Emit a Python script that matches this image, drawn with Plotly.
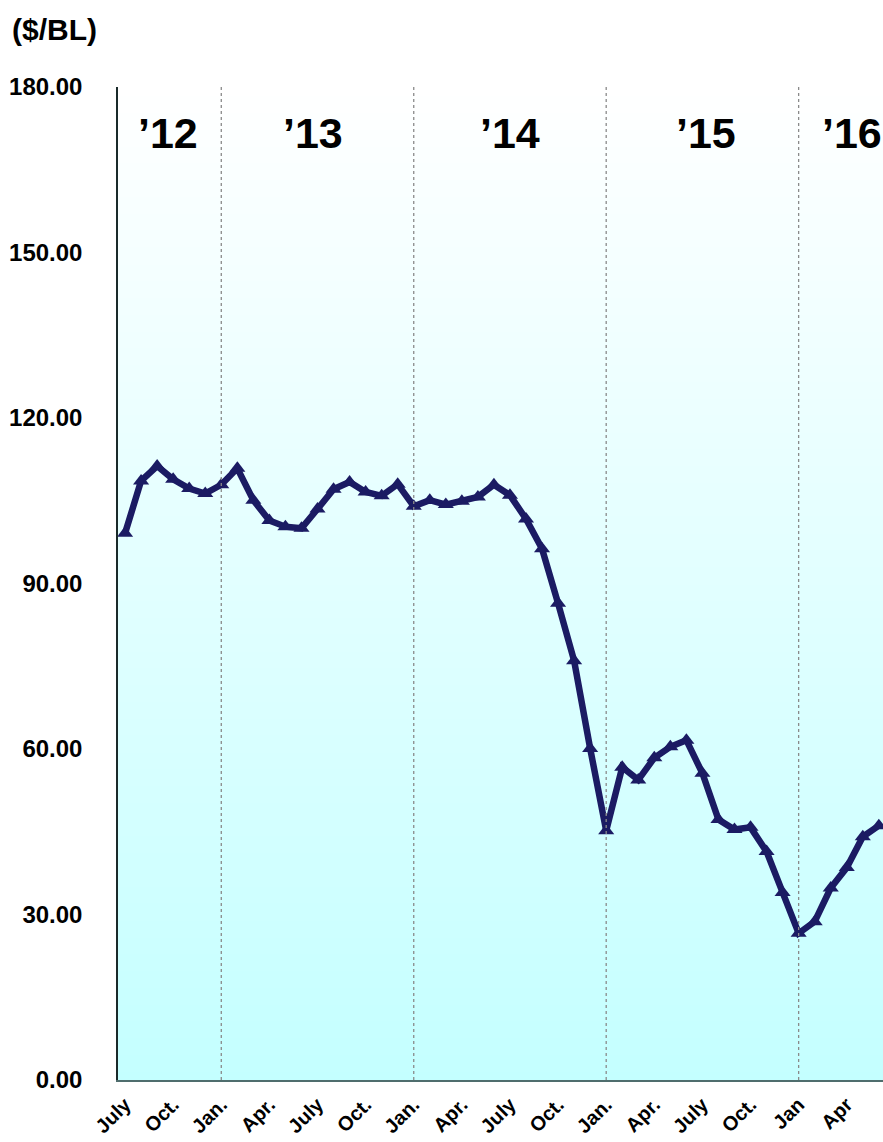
import numpy as np
import plotly.graph_objects as go

# ---- data ----
months = [
    "2012-07", "2012-08", "2012-09", "2012-10", "2012-11", "2012-12",
    "2013-01", "2013-02", "2013-03", "2013-04", "2013-05", "2013-06",
    "2013-07", "2013-08", "2013-09", "2013-10", "2013-11", "2013-12",
    "2014-01", "2014-02", "2014-03", "2014-04", "2014-05", "2014-06",
    "2014-07", "2014-08", "2014-09", "2014-10", "2014-11", "2014-12",
    "2015-01", "2015-02", "2015-03", "2015-04", "2015-05", "2015-06",
    "2015-07", "2015-08", "2015-09", "2015-10", "2015-11", "2015-12",
    "2016-01", "2016-02", "2016-03", "2016-04", "2016-05", "2016-06",
]
prices = [
    99.1, 108.6, 111.3, 108.9, 107.2, 106.3,
    107.9, 110.9, 105.1, 101.4, 100.3, 100.0,
    103.5, 107.1, 108.4, 106.6, 105.9, 108.0,
    104.0, 105.1, 104.3, 104.9, 105.7, 107.9,
    106.0, 101.7, 96.3, 86.4, 76.0, 60.1,
    45.2, 56.7, 54.4, 58.4, 60.4, 61.6,
    55.6, 47.2, 45.4, 45.8, 41.4, 34.0,
    26.6, 28.7, 34.8, 38.5, 44.1, 46.1,
]
tick_labels = ["July", "Oct.", "Jan.", "Apr.", "July", "Oct.", "Jan.", "Apr.",
               "July", "Oct.", "Jan.", "Apr.", "July", "Oct.", "Jan", "Apr"]
year_labels = ["\u201912", "\u201913", "\u201914", "\u201915", "\u201916"]
year_label_x = [2.65, 11.7, 24.0, 36.2, 45.35]
y_ticks = [0, 30, 60, 90, 120, 150, 180]

idx = list(range(len(months)))
tick_vals = idx[::3]
jan_idx = [i for i, m in enumerate(months) if m.endswith("-01")]

FONT = "Liberation Sans, Arial"
fig = go.Figure()

# gradient background (white at top -> light cyan at bottom)
gy = np.linspace(0, 180, 181)
fig.add_trace(go.Heatmap(
    x=[-2, 50], y=gy, z=[[v, v] for v in gy],
    colorscale=[[0, "#c4ffff"], [1, "#ffffff"]],
    showscale=False, hoverinfo="skip", zsmooth="best",
))

fig.add_trace(go.Scatter(
    x=idx, y=prices, mode="lines+markers",
    line=dict(color="#1b1b63", width=6.5),
    marker=dict(symbol="triangle-up", size=14, color="#1b1b63"),
    hoverinfo="y",
))

shapes = []
for j in jan_idx:
    shapes.append(dict(type="line", xref="x", yref="paper", x0=j, x1=j, y0=0, y1=1,
                       line=dict(color="#8a8a8a", width=1.3, dash="dot"), layer="above"))

annotations = [
    dict(text="<b>($/BL)</b>", xref="paper", yref="paper", x=-0.141, y=1.058,
         xanchor="left", yanchor="middle", showarrow=False,
         font=dict(family=FONT, size=30, color="#000000")),
]
for t, xp in zip(year_labels, year_label_x):
    annotations.append(dict(text="<b>" + t + "</b>", xref="x", yref="paper", x=xp, y=0.954,
                            xanchor="center", yanchor="middle", showarrow=False,
                            font=dict(family=FONT, size=43, color="#000000")))

fig.update_layout(
    width=883, height=1142,
    margin=dict(l=118, r=0, t=87, b=62),
    paper_bgcolor="#ffffff", plot_bgcolor="#ffffff",
    showlegend=False,
    shapes=shapes, annotations=annotations,
    xaxis=dict(range=[-0.44, 47.26], tickvals=tick_vals, ticktext=["<b>" + t + "</b>" for t in tick_labels],
               tickangle=-45, tickfont=dict(family=FONT, size=20, color="#000000"),
               showgrid=False, zeroline=False, showline=True, linecolor="#4f6d6d", linewidth=2,
               ticks="", ticklabelstandoff=3),
    yaxis=dict(range=[0, 180], tickvals=y_ticks, ticktext=["<b>%.2f</b>" % v for v in y_ticks],
               tickfont=dict(family=FONT, size=24, color="#000000"),
               showgrid=False, zeroline=False, showline=True, linecolor="#1a2a2a", linewidth=1.5,
               ticks="", ticklabelstandoff=29),
)

fig.write_html(
    "out.html",
    config={"displayModeBar": False},
    post_script="document.body.style.margin='0';document.body.style.overflow='hidden';"
                "document.documentElement.style.overflow='hidden';",
)
